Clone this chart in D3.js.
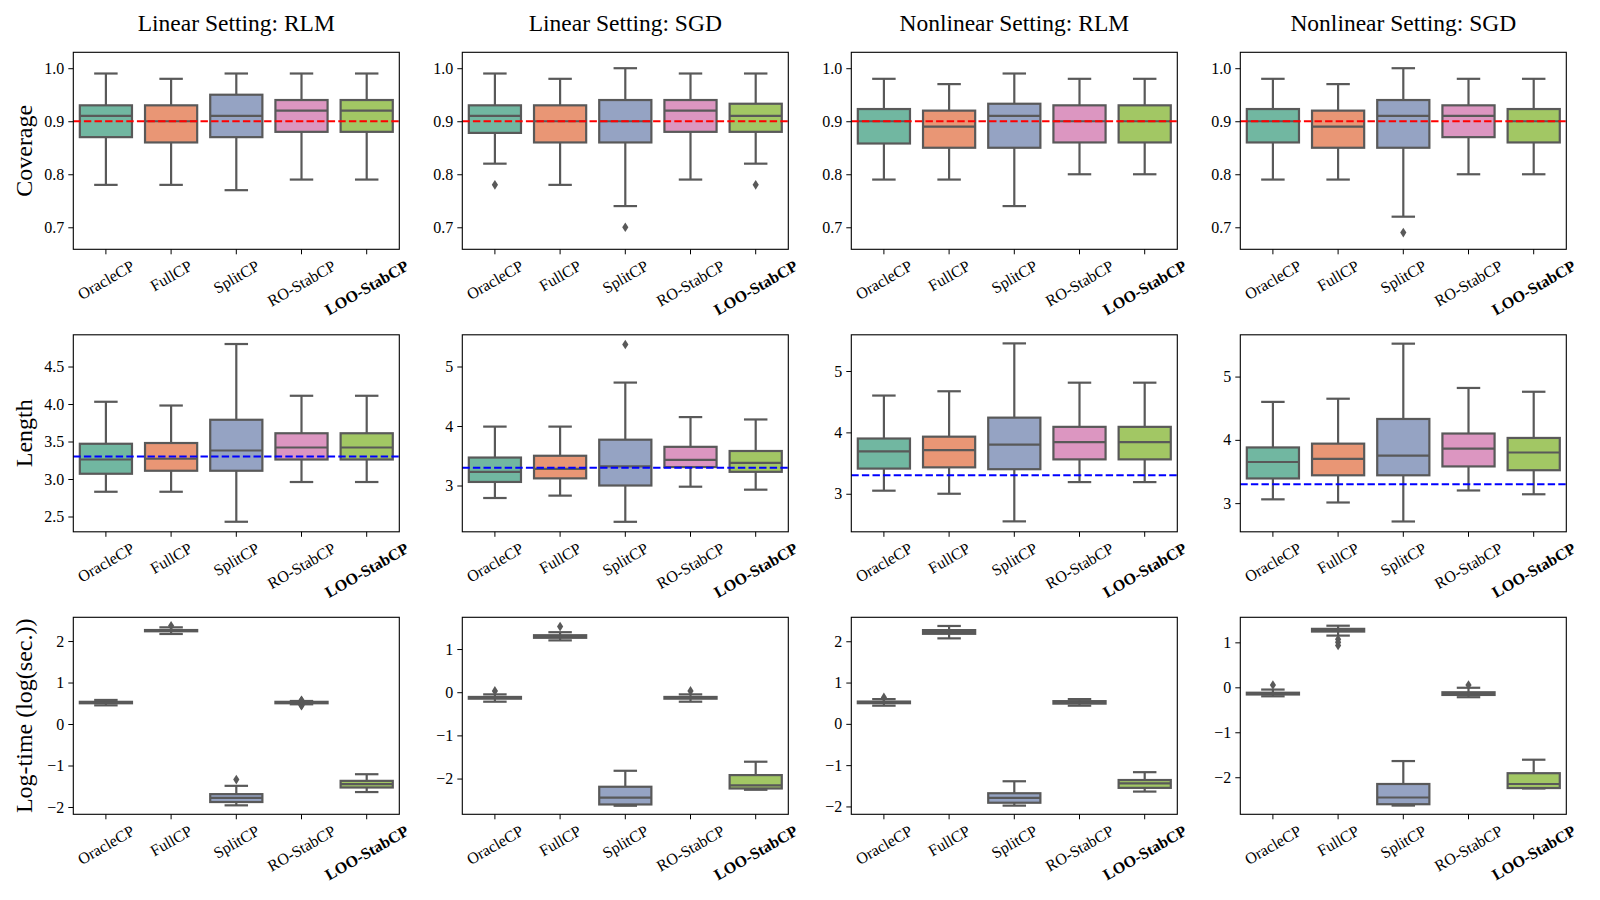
<!DOCTYPE html>
<html>
<head>
<meta charset="utf-8">
<script src="https://cdn.jsdelivr.net/npm/d3@7"></script>
<style>
body { margin: 0; background: #fff; }
svg { font-family: "Liberation Serif", "Times New Roman", serif; background: #fff; }
</style>
</head>
<body>
<svg width="1600" height="900"></svg>
<script>
window.onload = initialize;

var settings = ['Linear Setting: RLM', 'Linear Setting: SGD', 'Nonlinear Setting: RLM', 'Nonlinear Setting: SGD'];
var methods = ['OracleCP', 'FullCP', 'SplitCP', 'RO-StabCP', 'LOO-StabCP'];
var metrics = ['Coverage', 'Length', 'Log-time (log(sec.))'];
var targets = [0.9, 3.3, null];

// [whisker low, q1, median, q3, whisker high] per setting, per method
var coverageStats = [
    [[0.78, 0.87, 0.91, 0.93, 0.99], [0.78, 0.86, 0.90, 0.93, 0.98], [0.77, 0.87, 0.91, 0.95, 0.99], [0.79, 0.88, 0.92, 0.94, 0.99], [0.79, 0.88, 0.92, 0.94, 0.99]],
    [[0.82, 0.878, 0.91, 0.93, 0.99], [0.78, 0.86, 0.90, 0.93, 0.98], [0.74, 0.86, 0.90, 0.94, 1.00], [0.79, 0.88, 0.92, 0.94, 0.99], [0.82, 0.88, 0.91, 0.933, 0.99]],
    [[0.79, 0.858, 0.90, 0.923, 0.98], [0.79, 0.85, 0.89, 0.92, 0.97], [0.74, 0.85, 0.91, 0.933, 0.99], [0.80, 0.86, 0.90, 0.93, 0.98], [0.80, 0.86, 0.90, 0.93, 0.98]],
    [[0.79, 0.86, 0.90, 0.923, 0.98], [0.79, 0.85, 0.89, 0.92, 0.97], [0.72, 0.85, 0.91, 0.94, 1.00], [0.80, 0.87, 0.91, 0.93, 0.98], [0.80, 0.86, 0.90, 0.923, 0.98]]
];
var coverageOutliers = [
    [[], [], [], [], []],
    [[0.78], [], [0.70], [], [0.78]],
    [[], [], [], [], []],
    [[], [], [0.69], [], []]
];

var lengthStats = [
    [[2.83, 3.07, 3.26, 3.47, 4.03], [2.83, 3.11, 3.27, 3.48, 3.98], [2.43, 3.11, 3.38, 3.79, 4.80], [2.96, 3.26, 3.42, 3.61, 4.11], [2.96, 3.26, 3.42, 3.61, 4.11]],
    [[2.79, 3.06, 3.23, 3.47, 3.99], [2.83, 3.12, 3.28, 3.50, 3.99], [2.39, 3.00, 3.32, 3.77, 4.73], [2.98, 3.31, 3.43, 3.65, 4.15], [2.93, 3.23, 3.38, 3.58, 4.11]],
    [[3.05, 3.41, 3.69, 3.90, 4.60], [3.00, 3.43, 3.71, 3.93, 4.67], [2.55, 3.40, 3.80, 4.24, 5.45], [3.19, 3.56, 3.84, 4.09, 4.81], [3.19, 3.56, 3.84, 4.09, 4.81]],
    [[3.06, 3.39, 3.65, 3.88, 4.60], [3.01, 3.44, 3.70, 3.94, 4.65], [2.71, 3.44, 3.75, 4.33, 5.52], [3.20, 3.58, 3.86, 4.10, 4.82], [3.14, 3.52, 3.80, 4.03, 4.76]]
];
var lengthOutliers = [
    [[], [], [], [], []],
    [[], [], [5.37], [], []],
    [[], [], [], [], []],
    [[], [], [], [], []]
];

var timeStats = [
    [[0.45, 0.50, 0.52, 0.535, 0.58], [2.17, 2.235, 2.25, 2.265, 2.33], [-1.96, -1.88, -1.78, -1.69, -1.49], [0.475, 0.50, 0.52, 0.535, 0.555], [-1.64, -1.53, -1.45, -1.37, -1.21]],
    [[-0.22, -0.15, -0.13, -0.11, -0.05], [1.20, 1.26, 1.29, 1.32, 1.39], [-2.63, -2.60, -2.44, -2.19, -1.82], [-0.22, -0.15, -0.13, -0.11, -0.05], [-2.26, -2.23, -2.16, -1.92, -1.61]],
    [[0.44, 0.50, 0.52, 0.54, 0.60], [2.07, 2.18, 2.22, 2.27, 2.37], [-1.98, -1.91, -1.79, -1.68, -1.39], [0.44, 0.49, 0.52, 0.55, 0.60], [-1.64, -1.55, -1.44, -1.36, -1.17]],
    [[-0.20, -0.16, -0.14, -0.12, -0.05], [1.15, 1.24, 1.27, 1.30, 1.37], [-2.63, -2.60, -2.45, -2.15, -1.64], [-0.22, -0.17, -0.14, -0.11, -0.01], [-2.25, -2.24, -2.15, -1.91, -1.61]]
];
var timeOutliers = [
    [[], [2.37], [-1.34], [0.44, 0.45, 0.565, 0.57], []],
    [[0.03], [1.52], [], [0.03], []],
    [[0.64], [], [], [], []],
    [[0.05], [1.07, 1.0, 0.93], [], [0.05], []]
];

var yLimits = [
    [[0.6585, 1.030], [0.6585, 1.030], [0.6585, 1.030], [0.6585, 1.030]],
    [[2.296, 4.923], [2.222, 5.533], [2.38, 5.59], [2.547, 5.66]],
    [[-2.176, 2.572], [-2.828, 1.735], [-2.19, 2.58], [-2.824, 1.557]]
];
var yTicks = [
    [[0.7, 0.8, 0.9, 1.0], [0.7, 0.8, 0.9, 1.0], [0.7, 0.8, 0.9, 1.0], [0.7, 0.8, 0.9, 1.0]],
    [[2.5, 3.0, 3.5, 4.0, 4.5], [3, 4, 5], [3, 4, 5], [3, 4, 5]],
    [[-2, -1, 0, 1, 2], [-2, -1, 0, 1], [-2, -1, 0, 1, 2], [-2, -1, 0, 1]]
];

var statsByMetric = [coverageStats, lengthStats, timeStats];
var outliersByMetric = [coverageOutliers, lengthOutliers, timeOutliers];

var palette = ['#71b7a1', '#e99675', '#95a3c3', '#dc96c1', '#a2c764'];
var gray = '#595959';
var targetColors = ['#ff0000', '#0000ff'];

var dom = {};
var layout = { left: 73.3, top: 52.3, colStep: 389, rowStep: 282.5, width: 326, height: 197 };

function initialize() {
    dom.svg = d3.select('svg');
    metrics.forEach(function(m, r) {
        settings.forEach(function(s, c) { drawPanel(r, c); });
    });
    drawTitles();
    drawYLabels();
}

function drawTitles() {
    dom.svg.selectAll('.title')
            .data(settings)
        .enter().append('text')
            .attr('x', function(d, i) { return layout.left + i * layout.colStep + layout.width / 2; })
            .attr('y', 31)
            .attr('text-anchor', 'middle')
            .style('font-size', '23.5px')
            .text(function(d) { return d; });
}

function drawYLabels() {
    dom.svg.selectAll('.ylabel')
            .data(metrics)
        .enter().append('text')
            .attr('transform', function(d, i) {
                return 'translate(24,' + (layout.top + i * layout.rowStep + layout.height / 2) + ') rotate(-90)';
            })
            .attr('text-anchor', 'middle')
            .attr('dominant-baseline', 'central')
            .style('font-size', '24px')
            .text(function(d) { return d; });
}

function drawPanel(r, c) {
    var x0 = layout.left + c * layout.colStep,
        y0 = layout.top + r * layout.rowStep,
        W = layout.width, H = layout.height;
    var g = dom.svg.append('g').attr('transform', 'translate(' + x0 + ',' + y0 + ')');

    var x = d3.scaleBand().domain(methods).range([0, W]);
    var y = d3.scaleLinear().domain(yLimits[r][c]).range([H, 0]);
    var bw = x.bandwidth() * 0.8, cw = bw * 0.45, lw = 2.2;

    var data = methods.map(function(m, i) {
        return { name: m, s: statsByMetric[r][c][i], out: outliersByMetric[r][c][i], color: palette[i] };
    });

    var boxes = g.selectAll('.box')
            .data(data)
        .enter().append('g')
            .attr('transform', function(d) { return 'translate(' + (x(d.name) + x.bandwidth() / 2) + ',0)'; });

    boxes.append('rect')
        .attr('x', -bw / 2)
        .attr('width', bw)
        .attr('y', function(d) { return y(d.s[3]); })
        .attr('height', function(d) { return y(d.s[1]) - y(d.s[3]); })
        .attr('fill', function(d) { return d.color; })
        .attr('stroke', gray)
        .attr('stroke-width', lw);

    boxes.append('line')
        .attr('x1', -bw / 2).attr('x2', bw / 2)
        .attr('y1', function(d) { return y(d.s[2]); })
        .attr('y2', function(d) { return y(d.s[2]); })
        .attr('stroke', gray).attr('stroke-width', lw);

    [[0, 1], [3, 4]].forEach(function(p) {
        boxes.append('line')
            .attr('y1', function(d) { return y(d.s[p[0]]); })
            .attr('y2', function(d) { return y(d.s[p[1]]); })
            .attr('stroke', gray).attr('stroke-width', lw);
    });
    [0, 4].forEach(function(k) {
        boxes.append('line')
            .attr('x1', -cw / 2).attr('x2', cw / 2)
            .attr('y1', function(d) { return y(d.s[k]); })
            .attr('y2', function(d) { return y(d.s[k]); })
            .attr('stroke', gray).attr('stroke-width', lw);
    });

    boxes.selectAll('.flier')
            .data(function(d) { return d.out; })
        .enter().append('path')
            .attr('d', 'M0,-4.8L3.1,0L0,4.8L-3.1,0Z')
            .attr('transform', function(v) { return 'translate(0,' + y(v) + ')'; })
            .attr('fill', gray);

    if (targets[r] !== null) {
        g.append('line')
            .attr('x1', 0).attr('x2', W)
            .attr('y1', y(targets[r])).attr('y2', y(targets[r]))
            .attr('stroke', targetColors[r])
            .attr('stroke-width', 2)
            .attr('stroke-dasharray', '7.4,3.2');
    }

    var fmt = (r === 0 || (r === 1 && c === 0)) ? d3.format('.1f') : d3.format('d');
    var yAxis = g.append('g')
        .call(d3.axisLeft(y).tickValues(yTicks[r][c]).tickSize(5).tickPadding(4).tickFormat(fmt));
    yAxis.select('.domain').remove();
    yAxis.attr('font-family', null).attr('font-size', null);
    yAxis.selectAll('text').style('font-size', '16px').attr('fill', '#000');

    var xAxis = g.append('g')
        .attr('transform', 'translate(0,' + H + ')')
        .call(d3.axisBottom(x).tickSize(5).tickFormat(''));
    xAxis.select('.domain').remove();

    methods.forEach(function(m) {
        var lab = g.append('g');
        var t = lab.append('text')
            .attr('text-anchor', 'middle')
            .attr('dominant-baseline', 'central')
            .style('font-size', '16px')
            .style('font-weight', m === 'LOO-StabCP' ? 'bold' : 'normal')
            .text(m);
        var L = t.node().getComputedTextLength();
        var bh = L * 0.5 + 14 * 0.866;
        lab.attr('transform', 'translate(' + (x(m) + x.bandwidth() / 2) + ',' + (H + 9 + bh / 2) + ') rotate(-30)');
    });

    g.append('rect')
        .attr('width', W).attr('height', H)
        .attr('fill', 'none')
        .attr('stroke', '#000')
        .attr('stroke-width', 1.1);
}
</script>
</body>
</html>
